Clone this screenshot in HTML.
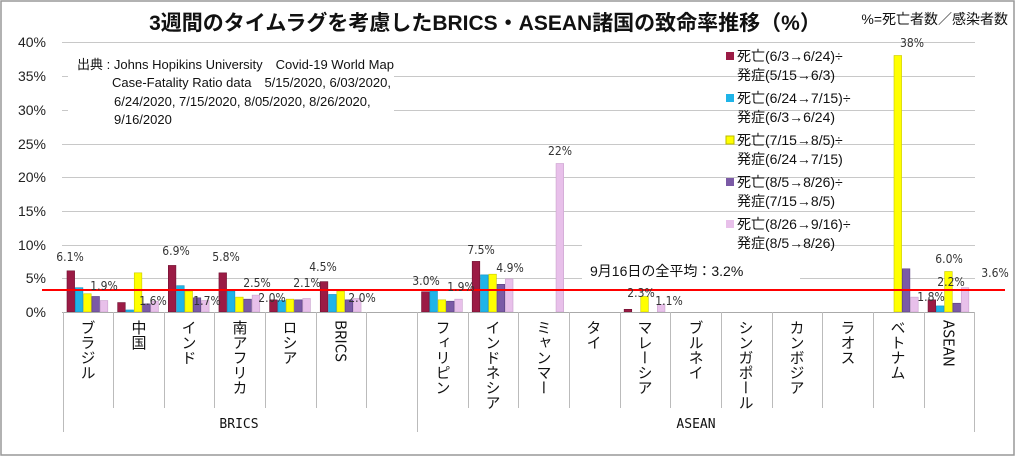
<!DOCTYPE html>
<html><head><meta charset="utf-8"><style>
html,body{margin:0;padding:0;background:#fff;}
svg{display:block;font-family:"Liberation Sans","Noto Sans CJK JP",sans-serif;}
.y{font-size:14px;fill:#222;text-anchor:end}
.d{font-size:12px;fill:#333;text-anchor:middle;font-family:"DejaVu Sans Condensed","Liberation Sans",sans-serif}
.c{font-size:15px;fill:#111;writing-mode:vertical-rl;font-family:"Noto Sans CJK JP",sans-serif}
.lg{font-size:14px;fill:#111;font-family:"Liberation Sans","Noto Sans CJK JP",sans-serif}
</style></head><body>
<svg id="s" width="1016" height="457" viewBox="0 0 1016 457" xmlns="http://www.w3.org/2000/svg">
<rect x="1" y="1" width="1013" height="454" fill="#fff" stroke="#999" stroke-width="1.5"/>
<g id="grid" stroke="#c8c8c8" stroke-width="1">
<line x1="62" y1="42.5" x2="975" y2="42.5"/>
<line x1="62" y1="76.5" x2="975" y2="76.5"/>
<line x1="62" y1="110.5" x2="975" y2="110.5"/>
<line x1="62" y1="144.5" x2="975" y2="144.5"/>
<line x1="62" y1="177.5" x2="975" y2="177.5"/>
<line x1="62" y1="211.5" x2="975" y2="211.5"/>
<line x1="62" y1="245.5" x2="975" y2="245.5"/>
<line x1="62" y1="278.5" x2="975" y2="278.5"/>
</g>
<rect x="68" y="48" width="326" height="84" fill="#fff"/>
<rect x="582" y="240" width="218" height="42" fill="#fff"/>
<g id="bars"></g>
<line x1="62" y1="312.5" x2="975" y2="312.5" stroke="#aaa"/>
<g id="ticks" stroke="#bbb" stroke-width="1"></g>
<line x1="42" y1="290" x2="1005" y2="290" stroke="#ff0000" stroke-width="2"/>
<text x="485" y="30" text-anchor="middle" style="font-size:21px;font-weight:bold;fill:#111">3週間のタイムラグを考慮したBRICS・ASEAN諸国の致命率推移（%）</text>
<text x="1008" y="24" text-anchor="end" style="font-size:14px;fill:#111">%=死亡者数／感染者数</text>
<g class="y">
<text x="46" y="47">40%</text><text x="46" y="81">35%</text><text x="46" y="115">30%</text><text x="46" y="149">25%</text><text x="46" y="182">20%</text><text x="46" y="216">15%</text><text x="46" y="250">10%</text><text x="46" y="283">5%</text><text x="46" y="317">0%</text>
</g>
<g style="font-size:13px;fill:#111">
<text x="77" y="69">出典 : Johns Hopikins University　Covid-19 World Map</text>
<text x="112" y="87">Case-Fatality Ratio data　5/15/2020, 6/03/2020,</text>
<text x="114" y="106">6/24/2020, 7/15/2020, 8/05/2020, 8/26/2020,</text>
<text x="114" y="124">9/16/2020</text>
</g>
<text x="590" y="276" style="font-size:14px;fill:#111">9月16日の全平均：3.2%</text>
<g class="lg">
<rect x="726" y="52" width="8" height="8" fill="#9b1b45"/><text x="737" y="61">死亡(6/3→6/24)÷</text><text x="737" y="80">発症(5/15→6/3)</text>
<rect x="726" y="94" width="8" height="8" fill="#1fb4e8"/><text x="737" y="103">死亡(6/24→7/15)÷</text><text x="737" y="122">発症(6/3→6/24)</text>
<rect x="726" y="136" width="8" height="8" fill="#ffff00" stroke="#bb0"/><text x="737" y="145">死亡(7/15→8/5)÷</text><text x="737" y="164">発症(6/24→7/15)</text>
<rect x="726" y="178" width="8" height="8" fill="#7b5aa6"/><text x="737" y="187">死亡(8/5→8/26)÷</text><text x="737" y="206">発症(7/15→8/5)</text>
<rect x="726" y="220" width="8" height="8" fill="#e8c0ea"/><text x="737" y="229">死亡(8/26→9/16)÷</text><text x="737" y="248">発症(8/5→8/26)</text>
</g>
<g class="d">
<text x="70" y="261">6.1%</text><text x="104" y="290">1.9%</text><text x="153" y="305">1.6%</text>
<text x="176" y="255">6.9%</text><text x="207" y="305">1.7%</text><text x="226" y="261">5.8%</text>
<text x="257" y="287">2.5%</text><text x="272" y="302">2.0%</text><text x="307" y="287">2.1%</text>
<text x="323" y="271">4.5%</text><text x="362" y="302">2.0%</text>
<text x="426" y="285">3.0%</text><text x="461" y="291">1.9%</text><text x="481" y="254">7.5%</text>
<text x="510" y="272">4.9%</text><text x="560" y="155">22%</text><text x="641" y="297">2.3%</text>
<text x="669" y="305">1.1%</text><text x="912" y="47">38%</text><text x="951" y="286">2.2%</text>
<text x="931" y="301">1.8%</text><text x="949" y="263">6.0%</text><text x="995" y="277">3.6%</text>
</g>
<g class="c">
<text x="88" y="320">ブラジル</text><text x="139" y="320">中国</text><text x="189" y="320">インド</text>
<text x="240" y="320">南アフリカ</text><text x="290" y="320">ロシア</text><text x="341" y="320">BRICS</text>
<text x="443" y="320">フィリピン</text><text x="493" y="320">インドネシア</text><text x="544" y="320">ミャンマー</text>
<text x="594" y="320">タイ</text><text x="645" y="320">マレーシア</text><text x="696" y="320">ブルネイ</text>
<text x="746" y="320">シンガポール</text><text x="797" y="320">カンボジア</text><text x="848" y="320">ラオス</text>
<text x="898" y="320">ベトナム</text><text x="949" y="320">ASEAN</text>
</g>
<text x="239" y="428" text-anchor="middle" style="font-size:13px;fill:#111;font-family:'DejaVu Sans Mono',monospace">BRICS</text>
<text x="696" y="428" text-anchor="middle" style="font-size:13px;fill:#111;font-family:'DejaVu Sans Mono',monospace">ASEAN</text>
</svg>
<script>
var data=[[6.1,3.6,2.7,2.3,1.7],[1.4,0.3,5.8,1.2,1.6],[6.9,3.9,3.1,2.1,1.7],[5.8,3.1,2.2,1.9,2.5],[1.8,1.7,1.9,1.8,2.0],[4.5,2.6,3.1,1.8,2.0],[0,0,0,0,0],
[3.0,3.1,1.8,1.6,1.9],[7.5,5.5,5.6,4.1,4.9],[0,0,0,0,22],[0,0,0,0,0],[0.4,0,2.3,0,1.1],[0,0,0,0,0],[0,0,0,0,0],[0,0,0,0,0],[0,0,0,0,0],[0,0,38,6.4,2.2],[1.8,0.9,6.0,1.3,3.6]];
var col=["#9b1b45","#1fb4e8","#ffff00","#7b5aa6","#e8c0ea"],str=["#6d1030","#1590c0","#c8c800","#5a4080","#c9a0cc"];
var ns="http://www.w3.org/2000/svg",g=document.getElementById("bars"),t=document.getElementById("ticks");
var x0=62.5,w=50.65;
data.forEach(function(r,i){r.forEach(function(v,k){if(v<=0)return;var h=v*6.75,r2=document.createElementNS(ns,"rect");
r2.setAttribute("x",x0+i*w+4.5+k*8.3);r2.setAttribute("y",312-h);r2.setAttribute("width",7.6);r2.setAttribute("height",h);
r2.setAttribute("fill",col[k]);r2.setAttribute("stroke",str[k]);r2.setAttribute("stroke-width","0.6");g.appendChild(r2);});});
for(var i=0;i<=18;i++){var l=document.createElementNS(ns,"line"),x=Math.round(x0+i*w)+0.5;l.setAttribute("x1",x);l.setAttribute("x2",x);l.setAttribute("y1",312);
l.setAttribute("y2",(i==0||i==7||i==18)?432:408);t.appendChild(l);}
</script>
</body></html>
